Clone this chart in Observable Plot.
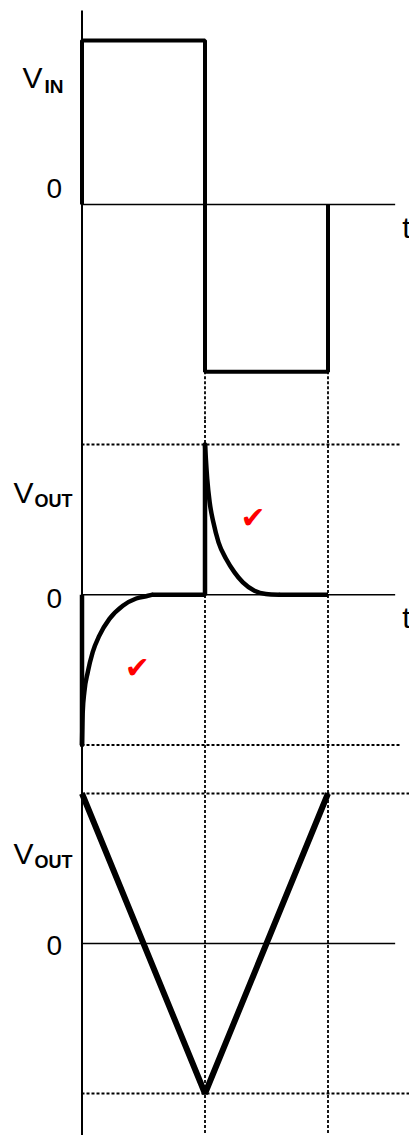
<!DOCTYPE html>
<html><head><meta charset="utf-8">
<script src="https://cdn.jsdelivr.net/npm/d3@7"></script>
<script src="https://cdn.jsdelivr.net/npm/@observablehq/plot@0.6"></script>
<style>
body{margin:0;background:#fff;}
#chart{width:409px;height:1135px;overflow:hidden;background:#fff;}
#chart svg{display:block;}
</style></head><body><div id="chart"></div>
<script>
// ---- data (time in half-periods, voltage relative) ----
const vinT = [0, 0, 1, 1, 2, 2];
const vinV = [0, 1, 1, -1.02, -1.02, 0];

// differentiator output: straight pieces
const outLinT   = [0, 0, 0.57, 1, 1, 1.6, 2];
const outLinV   = [0, -1, 0, 0, 1, 0, 0];
const outLinSeg = ["a", "a", "c", "c", "c", "e", "e"];
// exponential pieces
const fallT = [0, 0.006, 0.019, 0.047, 0.087, 0.141, 0.223, 0.332, 0.441, 0.536, 0.57];
const fallV = [-1, -0.78, -0.647, -0.515, -0.382, -0.272, -0.161, -0.073, -0.025, -0.007, 0];
const decayT = [1, 1.018, 1.038, 1.068, 1.11, 1.172, 1.24, 1.308, 1.402, 1.495, 1.6];
const decayV = [1, 0.771, 0.615, 0.482, 0.349, 0.238, 0.149, 0.082, 0.027, 0.005, 0];

// integrator output
const triT = [0, 1, 2];
const triV = [1, -1, 1];

const edges = [1, 2];          // switching instants (dotted verticals)
const levels = [-1, 1];        // dotted horizontal levels
const zeroEnd = 2.55;          // end of time axis
const checkT = [0.45, 1.39];
const checkV = [-0.49, 0.51];

const FONT = "Liberation Sans, Arial, Helvetica, sans-serif";
const xScale = {domain: [0, 2], range: [81.5, 327.5], axis: null};
const dotted = {stroke: "black", strokeWidth: 1.8, strokeDasharray: "3,2"};

function pts(T, V, extra) { return T.map((t, i) => ({t, v: V[i], ...(extra ? {s: extra[i]} : {})})); }

function labelMarks(sub, vEnd, subStart, vDy, subDy, zeroDy, withT) {
  const m = [
    Plot.text([1], {x: () => 0, y: d => d, text: () => "V", textAnchor: "end", lineAnchor: "bottom",
      dx: vEnd - 81.5, dy: vDy, fontSize: 30, fontFamily: FONT, fill: "black"}),
    Plot.text([1], {x: () => 0, y: d => d, text: () => sub, textAnchor: "start", lineAnchor: "bottom",
      dx: subStart - 81.5, dy: subDy, fontSize: sub === "IN" ? 19 : 18, fontWeight: "bold", fontFamily: FONT, fill: "black"}),
    Plot.text([0], {x: () => 0, y: d => d, text: () => "0", textAnchor: "end", lineAnchor: "bottom",
      dx: -20, dy: zeroDy, fontSize: 28, fontFamily: FONT, fill: "black"})
  ];
  if (withT) m.push(Plot.text([0], {x: () => zeroEnd, y: d => d, text: () => "t", textAnchor: "start", lineAnchor: "bottom",
      dx: 6.5, dy: 33, fontSize: 30, fontFamily: FONT, fill: "black"}));
  return m;
}

const base = {width: 409, margin: 0, x: xScale, style: {fontFamily: FONT, background: "white"}};

// ---- panel 1: input square wave ----
const p1 = Plot.plot({
  ...base, height: 420,
  y: {domain: [-1, 1], range: [368, 40], axis: null},
  marks: [
    Plot.ruleX(edges, {x: d => d, y1: -1.02, y2: -1.36, ...dotted}),
    Plot.ruleY([0], {y: d => d, x1: 0, x2: zeroEnd, stroke: "black", strokeWidth: 1.5}),
    Plot.ruleX([0], {x: d => d, y1: 1.18, y2: -1.36, stroke: "black", strokeWidth: 2}),
    Plot.line(pts(vinT, vinV), {x: "t", y: "v", stroke: "black", strokeWidth: 4,
      strokeLinejoin: "miter", strokeLinecap: "butt"}),
    ...labelMarks("IN", 42, 44, 47, 52, -7, true)
  ]
});

// ---- panel 2: differentiator output ----
const p2 = Plot.plot({
  ...base, height: 350,
  y: {domain: [-1, 1], range: [324.5, 24], axis: null},
  marks: [
    Plot.ruleX(edges, {x: d => d, ...dotted}),
    Plot.ruleY(levels, {y: d => d, x1: 0, x2: 2.59, ...dotted}),
    Plot.ruleY([0], {y: d => d, x1: 0, x2: zeroEnd, stroke: "black", strokeWidth: 1.5}),
    Plot.ruleX([0], {x: d => d, stroke: "black", strokeWidth: 2}),
    Plot.line(pts(outLinT, outLinV, outLinSeg), {x: "t", y: "v", z: "s", stroke: "black", strokeWidth: 4.5,
      strokeLinejoin: "miter", strokeLinecap: "butt"}),
    Plot.line([...pts(fallT, fallV).map(d => ({...d, s: "f"})), ...pts(decayT, decayV).map(d => ({...d, s: "d"}))],
      {x: "t", y: "v", z: "s", curve: "monotone-x", stroke: "black", strokeWidth: 4.5, strokeLinecap: "round"}),
    Plot.text(pts(checkT, checkV), {x: "t", y: "v", text: () => "\u2714", fill: "red", fontSize: 30,
      fontFamily: "DejaVu Sans"}),
    ...labelMarks("OUT", 33, 34, 58, 62, 13, true)
  ]
});

// ---- panel 3: integrator output ----
const p3 = Plot.plot({
  ...base, height: 365,
  y: {domain: [-1, 1], range: [323, 23], axis: null},
  marks: [
    Plot.ruleX(edges, {x: d => d, ...dotted}),
    Plot.ruleY(levels, {y: d => d, x1: 0, x2: 2.75, ...dotted}),
    Plot.ruleY([0], {y: d => d, x1: 0, x2: zeroEnd, stroke: "black", strokeWidth: 1.5}),
    Plot.ruleX([0], {x: d => d, stroke: "black", strokeWidth: 2}),
    Plot.line(pts(triT, triV), {x: "t", y: "v", stroke: "black", strokeWidth: 6,
      strokeLinejoin: "miter", strokeLinecap: "butt"}),
    ...labelMarks("OUT", 33, 34, 70, 74, 11, false)
  ]
});

const c = document.getElementById("chart");
c.append(p1, p2, p3);
</script></body></html>
